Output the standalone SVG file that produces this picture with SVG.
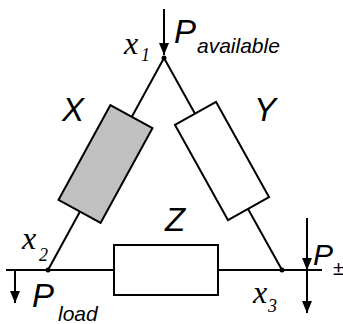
<svg xmlns="http://www.w3.org/2000/svg" width="343" height="324" viewBox="0 0 343 324">
<style>
.ln{stroke:#000;stroke-width:2;fill:none}
.box{stroke:#000;stroke-width:2}
.lbl{font-family:"Liberation Sans",Arial,sans-serif;font-style:italic;fill:#000}
.var{font-family:"Liberation Serif","Times New Roman",serif;font-style:italic;fill:#000}
</style>
<defs>
<marker id="ah" markerWidth="12" markerHeight="10" refX="12" refY="5" orient="auto" markerUnits="userSpaceOnUse" viewBox="0 0 12 10">
<path d="M0,0 L12,5 L0,10 Z" fill="#000"/>
</marker>
</defs>
<rect width="343" height="324" fill="#fff"/>
<g id="connectors">
<line class="ln" x1="164" y1="58" x2="48" y2="270"/>
<line class="ln" x1="164" y1="58" x2="282" y2="270"/>
<line class="ln" x1="6" y1="270" x2="322" y2="270"/>
<line class="ln" x1="164" y1="9" x2="164" y2="55" marker-end="url(#ah)"/>
<line class="ln" x1="15" y1="270" x2="15" y2="303" marker-end="url(#ah)"/>
<line class="ln" x1="307" y1="218" x2="307" y2="270" marker-end="url(#ah)"/>
<line class="ln" x1="307" y1="270" x2="307" y2="313" marker-end="url(#ah)"/>
</g>
<g id="nodeX">
<rect class="box" fill="#c0c0c0" x="-54" y="-24" width="108" height="48" transform="translate(105.5,164) rotate(-61.3)"/>
<text class="lbl" x="62" y="121" font-size="33">X</text>
</g>
<g id="nodeY">
<rect class="box" fill="#fff" x="-54.5" y="-23.5" width="109" height="47" transform="translate(222,161) rotate(60.9)"/>
<text class="lbl" x="254" y="121" font-size="33">Y</text>
</g>
<g id="nodeZ">
<rect class="box" fill="#fff" x="114" y="245" width="104" height="50"/>
<text class="lbl" x="165" y="231" font-size="33">Z</text>
</g>
<g id="x1">
<circle cx="164" cy="58" r="2.5"/>
<text class="var" x="124" y="54" font-size="32">x</text>
<text class="var" x="141" y="61" font-size="18">1</text>
</g>
<g id="x2">
<circle cx="48" cy="270" r="2.5"/>
<text class="var" x="22" y="249" font-size="32">x</text>
<text class="var" x="39" y="261" font-size="18">2</text>
</g>
<g id="x3">
<circle cx="282" cy="270" r="2.5"/>
<text class="var" x="253" y="303" font-size="32">x</text>
<text class="var" x="268" y="312" font-size="18">3</text>
</g>
<g id="Pavailable">
<text class="lbl" x="174" y="43" font-size="33">P</text>
<text class="lbl" x="197" y="53" font-size="21">available</text>
</g>
<g id="Pload">
<text class="lbl" x="32" y="307" font-size="33">P</text>
<text class="lbl" x="58" y="321" font-size="21">load</text>
</g>
<g id="Ppm">
<text class="lbl" x="313" y="265" font-size="30">P</text>
<text class="lbl" x="333" y="275" font-size="20">±</text>
</g>
</svg>
